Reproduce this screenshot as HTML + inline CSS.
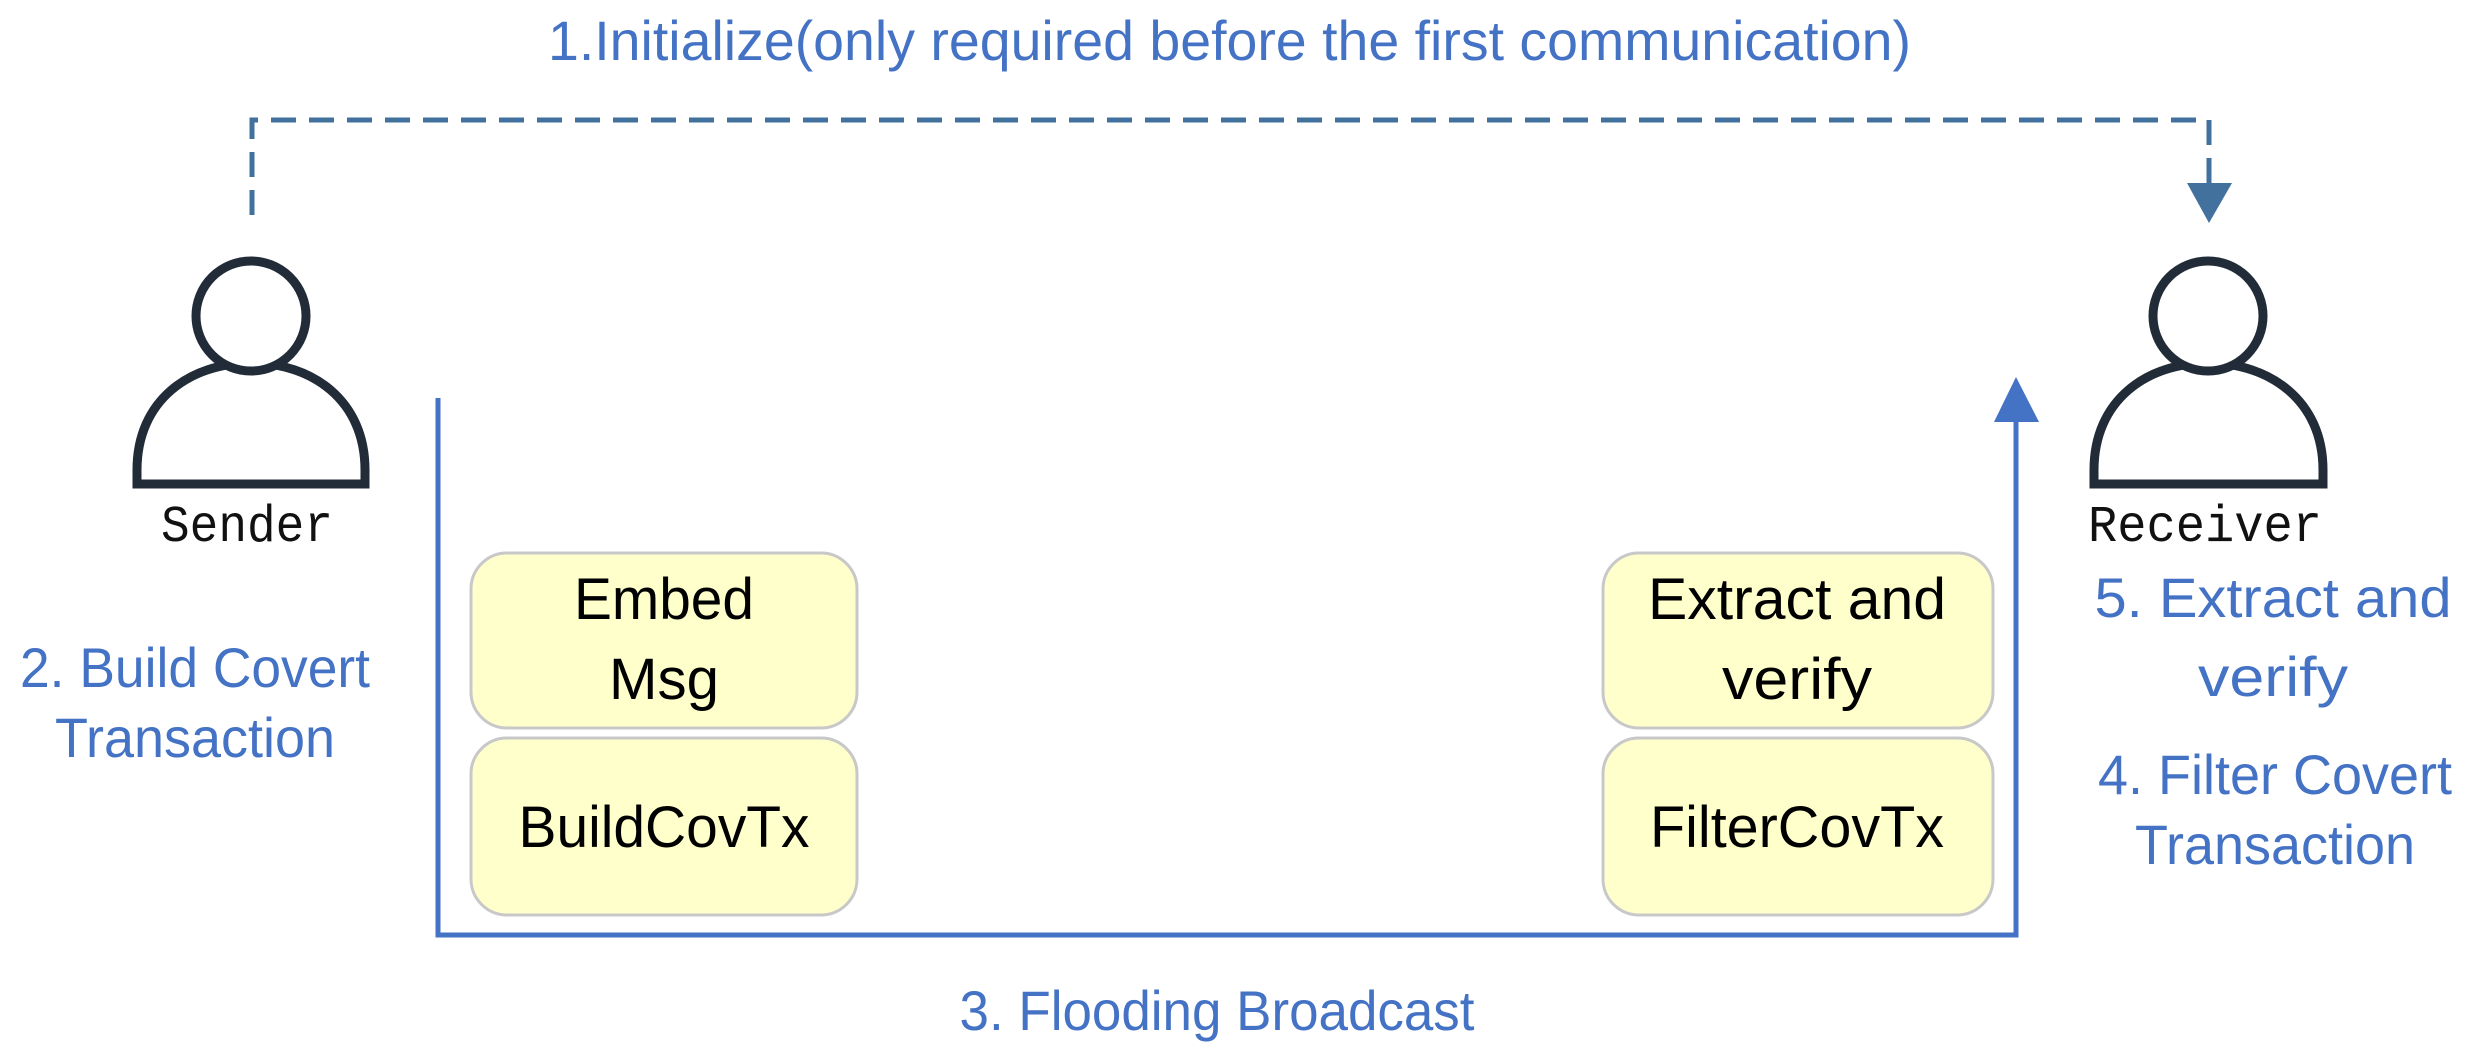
<!DOCTYPE html>
<html><head><meta charset="utf-8"><style>
html,body{margin:0;padding:0;background:#fff;}
svg{display:block;}
.b{font-family:"Liberation Sans",sans-serif;fill:#4472C4;}
.k{font-family:"Liberation Sans",sans-serif;fill:#000;}
.m{font-family:"Liberation Mono",monospace;fill:#111;}
</style></head><body>
<svg width="2471" height="1054" viewBox="0 0 2471 1054" xmlns="http://www.w3.org/2000/svg">
<text class="b" x="548" y="60" font-size="56" textLength="1363" lengthAdjust="spacingAndGlyphs">1.Initialize(only required before the first communication)</text>
<path d="M252,215 L252,120 L2209,120 L2209,186" fill="none" stroke="#41719C" stroke-width="5" stroke-dasharray="25,13"/>
<polygon points="2187,183 2232,183 2209,223" fill="#41719C"/>
<g stroke="#222b38" stroke-width="9" fill="#fff">
<path d="M137,484 L137,470 C137,400 190,363 251,363 C312,363 365,400 365,470 L365,484 Z"/>
<circle cx="251" cy="316" r="55"/>
<path d="M2094,484 L2094,470 C2094,400 2147,363 2208,363 C2269,363 2323,400 2323,470 L2323,484 Z"/>
<circle cx="2208" cy="316" r="55"/>
</g>
<text class="m" x="161" y="541" font-size="52" textLength="172" lengthAdjust="spacingAndGlyphs">Sender</text>
<text class="m" x="2088" y="541" font-size="52" textLength="234" lengthAdjust="spacingAndGlyphs">Receiver</text>
<path d="M438,398 L438,935 L2016,935 L2016,410" fill="none" stroke="#4472C4" stroke-width="5"/>
<polygon points="1994,422 2039,422 2016,377" fill="#4472C4"/>
<g fill="#FFFFCC" stroke="#c8c8c8" stroke-width="3">
<rect x="471" y="553" width="386" height="175" rx="36"/>
<rect x="471" y="738" width="386" height="177" rx="36"/>
<rect x="1603" y="553" width="390" height="175" rx="36"/>
<rect x="1603" y="738" width="390" height="177" rx="36"/>
</g>
<g class="k" font-size="58" text-anchor="middle">
<text x="664" y="619" textLength="180" lengthAdjust="spacingAndGlyphs">Embed</text>
<text x="664" y="699" textLength="110" lengthAdjust="spacingAndGlyphs">Msg</text>
<text x="664" y="847" textLength="291" lengthAdjust="spacingAndGlyphs">BuildCovTx</text>
<text x="1797" y="619" textLength="298" lengthAdjust="spacingAndGlyphs">Extract and</text>
<text x="1797" y="699" textLength="150" lengthAdjust="spacingAndGlyphs">verify</text>
<text x="1797" y="847" textLength="294" lengthAdjust="spacingAndGlyphs">FilterCovTx</text>
</g>
<g class="b" font-size="56" text-anchor="middle">
<text x="195" y="687" textLength="350" lengthAdjust="spacingAndGlyphs">2. Build Covert</text>
<text x="195" y="757" textLength="280" lengthAdjust="spacingAndGlyphs">Transaction</text>
<text x="2273" y="617" textLength="357" lengthAdjust="spacingAndGlyphs">5. Extract and</text>
<text x="2273" y="696" textLength="150" lengthAdjust="spacingAndGlyphs">verify</text>
<text x="2275" y="794" textLength="354" lengthAdjust="spacingAndGlyphs">4. Filter Covert</text>
<text x="2275" y="864" textLength="280" lengthAdjust="spacingAndGlyphs">Transaction</text>
<text x="1217" y="1030" textLength="515" lengthAdjust="spacingAndGlyphs">3. Flooding Broadcast</text>
</g>
</svg>
</body></html>
